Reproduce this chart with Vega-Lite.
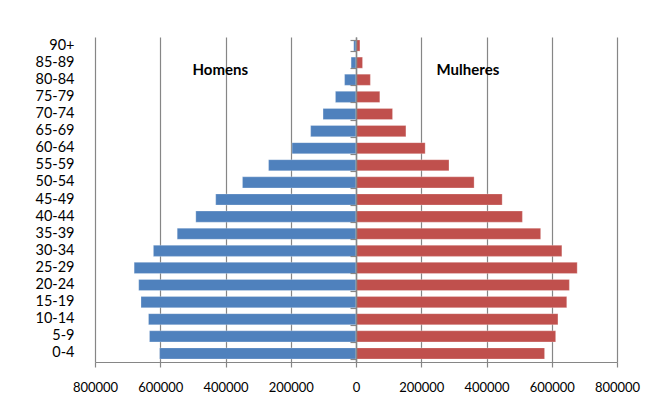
{
  "$schema": "https://vega.github.io/schema/vega-lite/v6.json",
  "width": 522,
  "height": 325,
  "autosize": {"type": "none"},
  "padding": {"left": 95, "top": 37, "right": 53, "bottom": 47},
  "background": "white",
  "config": {
    "view": {"stroke": null},
    "font": "Lato"
  },
  "datasets": {
    "pop": [
      {"idade": "90+", "sexo": "Homens", "populacao": -7000},
      {"idade": "85-89", "sexo": "Homens", "populacao": -15000},
      {"idade": "80-84", "sexo": "Homens", "populacao": -35000},
      {"idade": "75-79", "sexo": "Homens", "populacao": -63000},
      {"idade": "70-74", "sexo": "Homens", "populacao": -101000},
      {"idade": "65-69", "sexo": "Homens", "populacao": -139000},
      {"idade": "60-64", "sexo": "Homens", "populacao": -196000},
      {"idade": "55-59", "sexo": "Homens", "populacao": -268000},
      {"idade": "50-54", "sexo": "Homens", "populacao": -348000},
      {"idade": "45-49", "sexo": "Homens", "populacao": -430000},
      {"idade": "40-44", "sexo": "Homens", "populacao": -491000},
      {"idade": "35-39", "sexo": "Homens", "populacao": -548000},
      {"idade": "30-34", "sexo": "Homens", "populacao": -621000},
      {"idade": "25-29", "sexo": "Homens", "populacao": -680000},
      {"idade": "20-24", "sexo": "Homens", "populacao": -666000},
      {"idade": "15-19", "sexo": "Homens", "populacao": -659000},
      {"idade": "10-14", "sexo": "Homens", "populacao": -636000},
      {"idade": "5-9", "sexo": "Homens", "populacao": -633000},
      {"idade": "0-4", "sexo": "Homens", "populacao": -602000},
      {"idade": "90+", "sexo": "Mulheres", "populacao": 12000},
      {"idade": "85-89", "sexo": "Mulheres", "populacao": 20000},
      {"idade": "80-84", "sexo": "Mulheres", "populacao": 44000},
      {"idade": "75-79", "sexo": "Mulheres", "populacao": 73000},
      {"idade": "70-74", "sexo": "Mulheres", "populacao": 112000},
      {"idade": "65-69", "sexo": "Mulheres", "populacao": 153000},
      {"idade": "60-64", "sexo": "Mulheres", "populacao": 212000},
      {"idade": "55-59", "sexo": "Mulheres", "populacao": 285000},
      {"idade": "50-54", "sexo": "Mulheres", "populacao": 362000},
      {"idade": "45-49", "sexo": "Mulheres", "populacao": 448000},
      {"idade": "40-44", "sexo": "Mulheres", "populacao": 510000},
      {"idade": "35-39", "sexo": "Mulheres", "populacao": 566000},
      {"idade": "30-34", "sexo": "Mulheres", "populacao": 631000},
      {"idade": "25-29", "sexo": "Mulheres", "populacao": 678000},
      {"idade": "20-24", "sexo": "Mulheres", "populacao": 654000},
      {"idade": "15-19", "sexo": "Mulheres", "populacao": 646000},
      {"idade": "10-14", "sexo": "Mulheres", "populacao": 619000},
      {"idade": "5-9", "sexo": "Mulheres", "populacao": 612000},
      {"idade": "0-4", "sexo": "Mulheres", "populacao": 578000}
    ],
    "rotulos": [
      {"idade": "85-89", "sexo": "Homens", "populacao": -416000},
      {"idade": "85-89", "sexo": "Mulheres", "populacao": 343000}
    ]
  },
  "resolve": {"axis": {"y": "independent"}},
  "layer": [
    {
      "data": {"name": "pop"},
      "mark": {"type": "bar", "stroke": "white", "strokeOpacity": 0.5, "strokeWidth": 0.5},
      "encoding": {
        "y": {
          "field": "idade",
          "type": "nominal",
          "sort": ["90+","85-89","80-84","75-79","70-74","65-69","60-64","55-59","50-54","45-49","40-44","35-39","30-34","25-29","20-24","15-19","10-14","5-9","0-4"],
          "scale": {"paddingInner": 0.35, "paddingOuter": 0.175},
          "axis": {
            "orient": "left",
            "title": null,
            "ticks": false,
            "domain": false,
            "grid": false,
            "labelFontSize": 14.5,
            "labelColor": "black",
            "labelPadding": 21,
            "labelOverlap": false
          }
        },
        "x": {
          "field": "populacao",
          "type": "quantitative",
          "scale": {"domain": [-800000, 800000], "nice": false},
          "axis": {
            "title": null,
            "values": [-800000, -600000, -400000, -200000, 0, 200000, 400000, 600000, 800000],
            "labelExpr": "format(abs(datum.value), 'd')",
            "labelOverlap": false,
            "labelFlush": false,
            "labelBound": false,
            "grid": true,
            "gridColor": "#868686",
            "gridWidth": 1.2,
            "gridOpacity": 1,
            "domainColor": "#868686",
            "domainWidth": 1.2,
            "tickColor": "#868686",
            "tickWidth": 1.2,
            "tickSize": 5,
            "labelFontSize": 13,
            "labelColor": "black",
            "labelPadding": 14
          }
        },
        "color": {
          "field": "sexo",
          "type": "nominal",
          "scale": {"domain": ["Homens", "Mulheres"], "range": ["#4F81BD", "#C0504D"]},
          "legend": null
        }
      }
    },
    {
      "data": {"name": "rotulos"},
      "mark": {"type": "text", "fontWeight": "bold", "fontSize": 15, "dy": 7, "color": "black"},
      "encoding": {
        "y": {
          "field": "idade",
          "type": "nominal",
          "sort": ["90+","85-89","80-84","75-79","70-74","65-69","60-64","55-59","50-54","45-49","40-44","35-39","30-34","25-29","20-24","15-19","10-14","5-9","0-4"],
          "axis": {
            "orient": "left",
            "offset": -261,
            "title": null,
            "labels": false,
            "grid": false,
            "ticks": true,
            "tickBand": "extent",
            "tickSize": 6,
            "tickColor": "#868686",
            "tickWidth": 1.2,
            "domain": true,
            "domainColor": "#868686",
            "domainWidth": 1.5,
            "zindex": 1
          }
        },
        "x": {"field": "populacao", "type": "quantitative"},
        "text": {"field": "sexo", "type": "nominal"}
      }
    }
  ]
}
